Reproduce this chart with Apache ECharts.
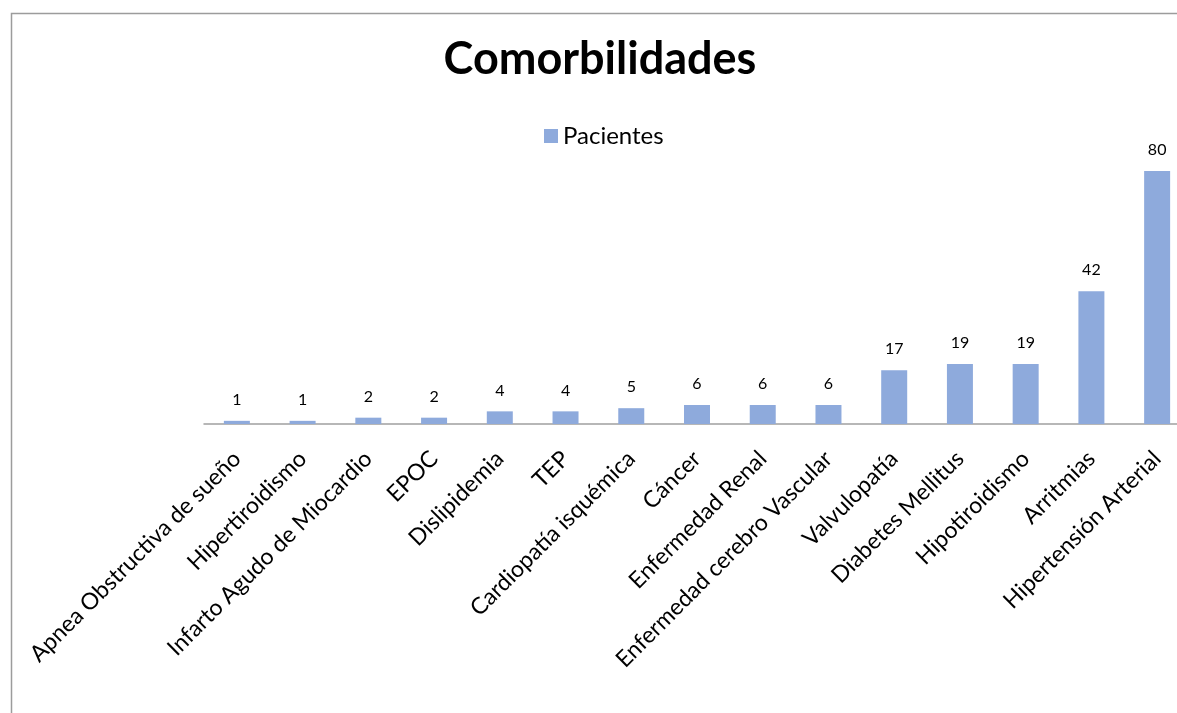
<!DOCTYPE html>
<html>
<head>
    <meta charset="UTF-8">
    <title>Comorbilidades</title>
    <script src="https://cdn.jsdelivr.net/npm/echarts@6/dist/echarts.min.js"></script>
    <style>
        body {
            margin: 0;
            padding: 0;
            background: #fff;
            overflow: hidden;
        }

        /* el gráfico original está recortado por la derecha */
        #chart {
            width: 1200px;
            height: 713px;
        }
    </style>
</head>
<body>
<div id="chart"></div>
<script>
    // datos
    var categorias = ['Apnea Obstructiva de sueño', 'Hipertiroidismo', 'Infarto Agudo de Miocardio', 'EPOC',
        'Dislipidemia', 'TEP', 'Cardiopatía isquémica', 'Cáncer', 'Enfermedad Renal',
        'Enfermedad cerebro Vascular', 'Valvulopatía', 'Diabetes Mellitus', 'Hipotiroidismo',
        'Arritmias', 'Hipertensión Arterial'];
    var pacientes = [1, 1, 2, 2, 4, 4, 5, 6, 6, 6, 17, 19, 19, 42, 80];

    var fuente = 'Lato, "Open Sans", sans-serif';
    var chart = echarts.init(document.getElementById('chart'), null, {renderer: 'canvas'});

    var option = {
        animation: false,
        title: {
            text: 'Comorbilidades',
            left: 'center',
            top: 32,
            textStyle: {
                fontFamily: fuente,
                fontWeight: 'bold',
                fontSize: 45,
                color: '#000'
            }
        },
        legend: {
            data: ['Pacientes'],
            left: 539,
            top: 119,
            itemWidth: 14,
            itemHeight: 14,
            itemGap: 8,
            icon: 'rect',
            textStyle: {
                fontFamily: fuente,
                fontSize: 24,
                color: '#000'
            }
        },
        graphic: [{
            type: 'rect',
            left: 9,
            top: 11,
            shape: {width: 1400, height: 900},
            style: {fill: 'none', stroke: '#9c9c9c', lineWidth: 1.5},
            silent: true
        }],
        grid: {
            left: 204,
            top: 171,
            width: 986,
            height: 253
        },
        xAxis: {
            type: 'category',
            data: categorias,
            axisLine: {lineStyle: {color: '#a0a0a0', width: 1.5}},
            axisTick: {show: false},
            axisLabel: {
                rotate: 45,
                interval: 0,
                margin: 31,
                fontFamily: fuente,
                fontSize: 23,
                color: '#000'
            }
        },
        yAxis: {
            type: 'value',
            min: 0,
            max: 80,
            show: false,
            splitLine: {show: false}
        },
        series: [{
            name: 'Pacientes',
            type: 'bar',
            data: pacientes,
            barWidth: 26,
            itemStyle: {color: '#8eaadc'},
            label: {
                show: true,
                position: 'top',
                distance: 13,
                fontFamily: fuente,
                fontSize: 16,
                color: '#000'
            }
        }]
    };
    chart.setOption(option);
</script>
</body>
</html>
